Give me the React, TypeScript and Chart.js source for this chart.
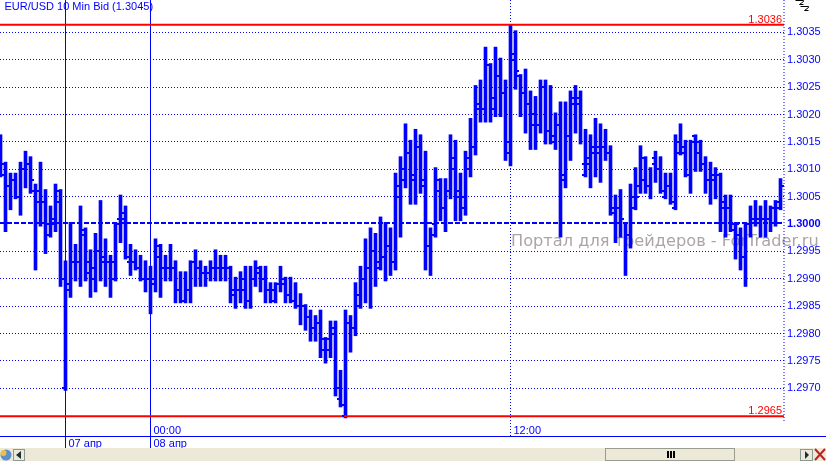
import { useEffect, useRef } from 'react';
import { Chart, registerables } from 'chart.js';

Chart.register(...registerables);

const BLUE = '#0000ff';
const RED = '#ff0000';
const FONT = '"Liberation Sans", Arial, sans-serif';

const chartTitle = 'EUR/USD 10 Min Bid (1.3045)';
const watermark = 'Портал для трейдеров - ForTrader.ru';

const highs = [
  1.3016, 1.3011, 1.3009, 1.3009, 1.3011, 1.3013, 1.3012, 1.3007, 1.3011, 1.3006,
  1.3003, 1.3007, 1.3006, 1.2993, 1.3000, 1.2996, 1.3003, 1.2999, 1.2995, 1.2998,
  1.3004, 1.2997, 1.2994, 1.3000, 1.3005, 1.3003, 1.2996, 1.2995, 1.2994, 1.2993,
  1.2992, 1.2997, 1.2996, 1.2994, 1.2996, 1.2993, 1.2991, 1.2991, 1.2993, 1.2995,
  1.2993, 1.2992, 1.2993, 1.2995, 1.2994, 1.2994, 1.2992, 1.2990, 1.2991, 1.2992,
  1.2992, 1.2993, 1.2992, 1.2992, 1.2989, 1.2989, 1.2992, 1.2990, 1.2990, 1.2989,
  1.2987, 1.2985, 1.2984, 1.2983, 1.2984, 1.2979, 1.2982, 1.2982, 1.2973, 1.2984,
  1.2983, 1.2989, 1.2992, 1.2997, 1.2999, 1.2998, 1.3001, 1.3000, 1.2999, 1.3009,
  1.3012, 1.3018, 1.3015, 1.3017, 1.3016, 1.3013, 1.2999, 1.3010, 1.3008, 1.3008,
  1.3016, 1.3015, 1.3009, 1.3013, 1.3019, 1.3025, 1.3026, 1.3032, 1.3029, 1.3032,
  1.3030, 1.3026, 1.3036, 1.3035, 1.3027, 1.3028, 1.3024, 1.3023, 1.3026, 1.3026,
  1.3025, 1.3020, 1.3022, 1.3022, 1.3024, 1.3025, 1.3024, 1.3017, 1.3016, 1.3019,
  1.3018, 1.3017, 1.3014, 1.3005, 1.3006, 1.3000, 1.3007, 1.3010, 1.3014, 1.3012,
  1.3010, 1.3013, 1.3012, 1.3009, 1.3009, 1.3016, 1.3018, 1.3015, 1.3015, 1.3016,
  1.3015, 1.3012, 1.3011, 1.3010, 1.3009, 1.3005, 1.3005, 1.3000, 1.2999, 1.3000,
  1.3003, 1.3004, 1.3003, 1.3004, 1.3003, 1.3004, 1.3008,
];

const lows = [
  1.3009, 1.2999, 1.3003, 1.3005, 1.3002, 1.3007, 1.3006, 1.2992, 1.3000, 1.2995,
  1.2998, 1.2999, 1.2989, 1.2970, 1.2987, 1.2990, 1.2989, 1.2990, 1.2987, 1.2988,
  1.2990, 1.2989, 1.2987, 1.2990, 1.2997, 1.2994, 1.2991, 1.2992, 1.2990, 1.2988,
  1.2984, 1.2988, 1.2987, 1.2990, 1.2990, 1.2986, 1.2986, 1.2986, 1.2986, 1.2989,
  1.2989, 1.2989, 1.2990, 1.2990, 1.2990, 1.2990, 1.2986, 1.2985, 1.2986, 1.2985,
  1.2985, 1.2989, 1.2988, 1.2986, 1.2986, 1.2986, 1.2988, 1.2986, 1.2986, 1.2985,
  1.2982, 1.2981, 1.2979, 1.2979, 1.2976, 1.2975, 1.2976, 1.2969, 1.2967, 1.2965,
  1.2977, 1.2980, 1.2985, 1.2986, 1.2985, 1.2989, 1.2992, 1.2990, 1.2991, 1.2992,
  1.2998, 1.3007, 1.3004, 1.3004, 1.3006, 1.2992, 1.2991, 1.2998, 1.3001, 1.2999,
  1.3005, 1.3001, 1.3001, 1.3002, 1.3009, 1.3013, 1.3019, 1.3019, 1.3019, 1.3020,
  1.3020, 1.3012, 1.3011, 1.3025, 1.3020, 1.3017, 1.3014, 1.3014, 1.3017, 1.3015,
  1.3015, 1.3014, 1.2998, 1.3007, 1.3012, 1.3017, 1.3015, 1.3009, 1.3007, 1.3009,
  1.3008, 1.3012, 1.3002, 1.2997, 1.2998, 1.2991, 1.2996, 1.3003, 1.3006, 1.3006,
  1.3005, 1.3008, 1.3006, 1.3005, 1.3004, 1.3003, 1.3013, 1.3009, 1.3006, 1.3010,
  1.3010, 1.3006, 1.3004, 1.3005, 1.2999, 1.2998, 1.2999, 1.2994, 1.2992, 1.2989,
  1.2998, 1.3000, 1.2998, 1.2998, 1.2999, 1.3000, 1.3003,
];

const opens = [
  1.3013, 1.3011, 1.3007, 1.3008, 1.3005, 1.3010, 1.3011, 1.3006, 1.3004, 1.3004,
  1.2998, 1.3000, 1.3006, 1.2970, 1.2988, 1.2993, 1.2993, 1.2998, 1.2993, 1.2990,
  1.2995, 1.2993, 1.2993, 1.2990, 1.3001, 1.3001, 1.2993, 1.2993, 1.2992, 1.2990,
  1.2990, 1.2989, 1.2994, 1.2992, 1.2992, 1.2992, 1.2988, 1.2986, 1.2988, 1.2993,
  1.2992, 1.2991, 1.2991, 1.2992, 1.2992, 1.2992, 1.2992, 1.2987, 1.2988, 1.2988,
  1.2986, 1.2990, 1.2992, 1.2990, 1.2988, 1.2988, 1.2989, 1.2990, 1.2987, 1.2986,
  1.2985, 1.2985, 1.2983, 1.2981, 1.2982, 1.2979, 1.2977, 1.2980, 1.2968, 1.2965,
  1.2982, 1.2981, 1.2985, 1.2990, 1.2992, 1.2995, 1.2992, 1.2994, 1.2996, 1.2993,
  1.3005, 1.3008, 1.3013, 1.3008, 1.3014, 1.3007, 1.2996, 1.3000, 1.3008, 1.3003,
  1.3006, 1.3012, 1.3005, 1.3003, 1.3012, 1.3014, 1.3021, 1.3021, 1.3029, 1.3023,
  1.3027, 1.3024, 1.3013, 1.3030, 1.3027, 1.3024, 1.3022, 1.3018, 1.3018, 1.3025,
  1.3017, 1.3015, 1.3018, 1.3008, 1.3016, 1.3022, 1.3022, 1.3009, 1.3011, 1.3014,
  1.3013, 1.3014, 1.3013, 1.3002, 1.3003, 1.3001, 1.2998, 1.3003, 1.3005, 1.3008,
  1.3007, 1.3011, 1.3010, 1.3005, 1.3007, 1.3003, 1.3013, 1.3013, 1.3009, 1.3016,
  1.3013, 1.3011, 1.3008, 1.3008, 1.3009, 1.3003, 1.3003, 1.2999, 1.2998, 1.2994,
  1.3000, 1.3001, 1.3001, 1.3001, 1.3001, 1.3003, 1.3003,
];

const closes = [
  1.3009, 1.3007, 1.3008, 1.3005, 1.3010, 1.3011, 1.3008, 1.3006, 1.3004, 1.3000,
  1.3001, 1.3004, 1.2990, 1.2989, 1.2993, 1.2993, 1.2999, 1.2991, 1.2992, 1.2995,
  1.2994, 1.2993, 1.2993, 1.3000, 1.3002, 1.2994, 1.2993, 1.2992, 1.2990, 1.2990,
  1.2990, 1.2996, 1.2992, 1.2992, 1.2992, 1.2988, 1.2986, 1.2988, 1.2993, 1.2992,
  1.2991, 1.2991, 1.2992, 1.2992, 1.2992, 1.2992, 1.2988, 1.2988, 1.2990, 1.2986,
  1.2990, 1.2991, 1.2990, 1.2988, 1.2986, 1.2989, 1.2989, 1.2987, 1.2986, 1.2985,
  1.2985, 1.2983, 1.2981, 1.2982, 1.2977, 1.2979, 1.2981, 1.2970, 1.2967, 1.2982,
  1.2981, 1.2987, 1.2990, 1.2992, 1.2995, 1.2993, 1.2994, 1.2996, 1.2993, 1.3007,
  1.3010, 1.3013, 1.3009, 1.3014, 1.3008, 1.2996, 1.2998, 1.3006, 1.3003, 1.3006,
  1.3010, 1.3006, 1.3005, 1.3010, 1.3014, 1.3022, 1.3021, 1.3029, 1.3021, 1.3027,
  1.3024, 1.3015, 1.3031, 1.3028, 1.3024, 1.3022, 1.3020, 1.3018, 1.3025, 1.3017,
  1.3016, 1.3018, 1.3009, 1.3016, 1.3023, 1.3023, 1.3011, 1.3012, 1.3013, 1.3014,
  1.3014, 1.3013, 1.3003, 1.3003, 1.3001, 1.2998, 1.3005, 1.3007, 1.3012, 1.3007,
  1.3012, 1.3010, 1.3006, 1.3007, 1.3004, 1.3015, 1.3014, 1.3009, 1.3015, 1.3015,
  1.3011, 1.3008, 1.3009, 1.3009, 1.3004, 1.3003, 1.3000, 1.3000, 1.2994, 1.3000,
  1.3001, 1.3001, 1.3001, 1.3001, 1.3003, 1.3004, 1.3007,
];

const priceTicks = [
  1.297, 1.2975, 1.298, 1.2985, 1.299, 1.2995, 1.3, 1.3005,
  1.301, 1.3015, 1.302, 1.3025, 1.303, 1.3035,
];
const sessionBars = [13, 30, 102];
const sessionTimes = ['', '00:00', '12:00'];
const sessionDates = ['07 апр', '08 апр', ''];

const dayHigh = 1.30364;
const dayLow = 1.29649;
const pivotLevel = 1.30002;
const dayHighLabel = '1.3036';
const dayLowLabel = '1.2965';

const stemCapUp = 0.00003;
const stemCapDown = 0.00004;

const lastIndexEdge = 156.9;
const axisIndexEdge = 156.7;

const ohlcStems = highs.map((h, i) => ({ x: i, y: [lows[i] - stemCapDown, h + stemCapUp] }));

const rectZig = (ctx: CanvasRenderingContext2D, ox: number, oy: number) => {
  ctx.beginPath();
  ctx.moveTo(ox, oy);
  ctx.lineTo(ox + 8, oy);
  ctx.lineTo(ox + 8, oy + 1);
  ctx.lineTo(ox + 4, oy + 4);
  ctx.lineTo(ox + 8, oy + 4);
  ctx.stroke();
};

const zeroPadding = (s: any) => {
  s.paddingTop = 0;
  s.paddingBottom = 0;
  s.paddingLeft = 0;
  s.paddingRight = 0;
};

const chromePlugin = {
  id: 'chrome',
  beforeDraw(chart: any) {
    const c = chart.ctx;
    c.save();
    c.fillStyle = '#ffffff';
    c.fillRect(0, 0, 826, 461);
    c.restore();
  },
  beforeDatasetsDraw(chart: any) {
    const c = chart.ctx;
    c.save();
    c.font = `16.2px "DejaVu Sans", sans-serif`;
    c.fillStyle = '#ada5a5';
    c.textBaseline = 'middle';
    c.textAlign = 'left';
    c.fillText(watermark, 511, 241.5);
    c.restore();
  },
  afterDatasetsDraw(chart: any) {
    const c = chart.ctx;
    const xs = chart.scales.x;
    const ys = chart.scales.y;
    c.save();
    // open / close ticks
    c.fillStyle = BLUE;
    highs.forEach((_, i) => {
      const px = Math.round(xs.getPixelForValue(i) - 0.5);
      c.fillRect(px - 3, Math.round(ys.getPixelForValue(opens[i]) - 1), 2, 2);
      c.fillRect(px + 2, Math.round(ys.getPixelForValue(closes[i]) - 1), 2, 2);
    });
    c.restore();
  },
  afterDraw(chart: any) {
    const c = chart.ctx;
    const xs = chart.scales.x;
    const ys = chart.scales.y;
    c.save();
    c.textBaseline = 'middle';
    c.font = `11px ${FONT}`;
    // title
    c.fillStyle = BLUE;
    c.textAlign = 'left';
    c.fillText(chartTitle, 4.5, 6.5);
    // high and low labels
    c.fillStyle = RED;
    c.textAlign = 'right';
    c.fillText(dayHighLabel, 782, ys.getPixelForValue(dayHigh) - 5);
    c.fillText(dayLowLabel, 782, ys.getPixelForValue(dayLow) - 5);
    // time axis line and labels
    c.fillStyle = BLUE;
    c.fillRect(0, 436, 826, 1);
    c.textAlign = 'left';
    sessionBars.forEach((b, i) => {
      const px = xs.getPixelForValue(b);
      if (sessionTimes[i]) c.fillText(sessionTimes[i], px + 3, 430.5);
      if (sessionDates[i]) c.fillText(sessionDates[i], px + 3, 443.5);
    });
    // window strip
    c.fillStyle = '#ece9d8';
    c.fillRect(0, 448, 826, 13);
    // globe icon
    c.fillStyle = '#5b8fd0';
    c.beginPath();
    c.arc(6, 455, 5.5, 0, Math.PI * 2);
    c.fill();
    c.fillStyle = '#f0c040';
    c.beginPath();
    c.arc(3.5, 453, 3, 0, Math.PI * 2);
    c.fill();
    // left button
    c.strokeStyle = '#8a9a90';
    c.strokeRect(13.5, 449.5, 11, 11);
    c.fillStyle = '#1f2f3a';
    c.beginPath();
    c.moveTo(16, 455);
    c.lineTo(21, 451);
    c.lineTo(21, 459);
    c.fill();
    // scrollbar thumb
    c.strokeStyle = '#9a9c90';
    c.strokeRect(605.5, 448.5, 129, 12);
    c.fillStyle = '#000000';
    [667, 670, 673].forEach((gx) => c.fillRect(gx, 451, 2, 7));
    // right button
    c.strokeStyle = '#8a9a90';
    c.strokeRect(800.5, 449.5, 12, 11);
    c.fillStyle = '#1f2f3a';
    c.beginPath();
    c.moveTo(809, 455);
    c.lineTo(805, 451);
    c.lineTo(805, 459);
    c.fill();
    // close mark
    c.strokeStyle = '#c02020';
    c.lineWidth = 2;
    c.beginPath();
    c.moveTo(815, 449);
    c.lineTo(825, 460);
    c.moveTo(825, 449);
    c.lineTo(815, 460);
    c.stroke();
    // zoom glyph
    c.strokeStyle = '#000000';
    c.lineWidth = 1;
    rectZig(c, 795.5, 0.5);
    rectZig(c, 800.5, 6.5);
    c.restore();
  },
};

export default function App() {
  const ref = useRef<HTMLCanvasElement | null>(null);

  useEffect(() => {
    if (!ref.current) return;
    const chart = new Chart(ref.current, {
      type: 'bar',
      data: {
        datasets: [
          {
            type: 'line',
            data: [
              { x: -0.1, y: dayHigh },
              { x: axisIndexEdge, y: dayHigh },
            ],
            borderColor: RED,
            borderWidth: 2,
            pointRadius: 0,
            order: 0,
          },
          {
            type: 'line',
            data: [
              { x: -0.1, y: dayLow },
              { x: axisIndexEdge, y: dayLow },
            ],
            borderColor: RED,
            borderWidth: 2,
            pointRadius: 0,
            order: 0,
          },
          {
            type: 'line',
            data: [
              { x: -0.1, y: pivotLevel },
              { x: axisIndexEdge, y: pivotLevel },
            ],
            borderColor: BLUE,
            borderWidth: 2,
            borderDash: [5, 2],
            pointRadius: 0,
            order: 2,
          },
          {
            type: 'line',
            data: [
              { x: axisIndexEdge, y: 1.30409 },
              { x: axisIndexEdge, y: 1.2964 },
            ],
            borderColor: BLUE,
            borderWidth: 1,
            borderDash: [1, 2],
            pointRadius: 0,
            order: 2,
          },
          {
            type: 'bar',
            data: ohlcStems as any,
            backgroundColor: BLUE,
            barThickness: 3,
            order: 1,
          } as any,
        ],
      },
      options: {
        responsive: false,
        animation: false,
        devicePixelRatio: 1,
        layout: { padding: 0, autoPadding: false },
        plugins: {
          legend: { display: false },
          tooltip: { enabled: false },
          title: { display: false },
        },
        scales: {
          x: {
            type: 'linear',
            position: 'bottom',
            offset: false,
            min: -0.1,
            max: lastIndexEdge,
            afterBuildTicks: (s: any) => {
              s.ticks = sessionBars.map((value) => ({ value }));
            },
            afterFit: (s: any) => {
              s.height = 25;
              zeroPadding(s);
            },
            ticks: { display: false },
            grid: {
              offset: false,
              color: BLUE,
              lineWidth: 1,
              tickLength: 12,
              tickColor: (ctx: any) => (ctx.tick && ctx.tick.value === 102 ? 'rgba(0,0,0,0)' : BLUE),
            },
            border: {
              display: false,
              dash: (ctx: any) => (ctx.tick && ctx.tick.value === 102 ? [1, 2] : []),
            },
          },
          y: {
            type: 'linear',
            position: 'right',
            min: 1.29613,
            max: 1.30409,
            afterBuildTicks: (s: any) => {
              s.ticks = priceTicks.map((value) => ({ value }));
            },
            afterFit: (s: any) => {
              s.width = 41;
              zeroPadding(s);
            },
            ticks: {
              color: BLUE,
              padding: 2,
              font: (ctx: any) => ({
                family: FONT,
                size: 11,
                weight: ctx.tick && ctx.tick.value === 1.3 ? 'bold' : 'normal',
              }),
              callback: (v: any) => Number(v).toFixed(4),
            },
            grid: {
              drawTicks: false,
              tickLength: 0,
              color: (ctx: any) => (ctx.tick && ctx.tick.value === 1.3 ? 'rgba(0,0,0,0)' : BLUE),
              lineWidth: 1,
            },
            border: { display: false, dash: [1, 2] },
          },
        },
      },
      plugins: [chromePlugin],
    } as any);
    return () => chart.destroy();
  }, []);

  return (
    <div style={{ position: 'fixed', left: 0, top: 0, width: 826, height: 461, overflow: 'hidden' }}>
      <canvas ref={ref} width={826} height={461} style={{ display: 'block' }} />
    </div>
  );
}
